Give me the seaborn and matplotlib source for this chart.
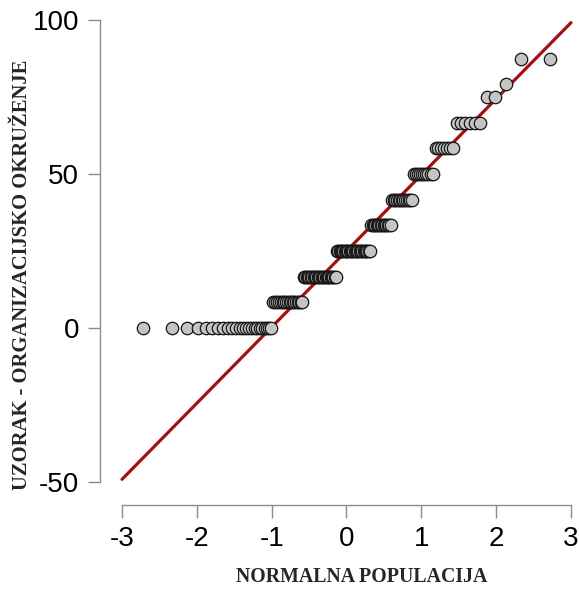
import numpy as np
import pandas as pd
import seaborn as sns
import matplotlib
matplotlib.use("Agg")
import matplotlib.pyplot as plt
from statistics import NormalDist

# ---- data ----
score_levels = [0, 8.333, 16.667, 25, 33.333, 41.667, 50, 58.333, 66.667, 75, 79.167, 87.5]
level_counts = [24, 18, 25, 27, 15, 13, 10, 7, 6, 2, 1, 2]
x_ticks = [-3, -2, -1, 0, 1, 2, 3]
y_ticks = [-50, 0, 50, 100]
x_label = "NORMALNA POPULACIJA"
y_label = "UZORAK - ORGANIZACIJSKO OKRUŽENJE"

# ---- Q-Q computation (as R's qqnorm / qqline) ----
sample = np.repeat(score_levels, level_counts)
n = len(sample)
probs = (np.arange(1, n + 1) - 0.5) / n
nd = NormalDist()
theo = np.array([nd.inv_cdf(p) for p in probs])
df = pd.DataFrame({"theo": theo, "sample": sample})

yq = np.quantile(sample, [0.25, 0.75])
xq = np.array([nd.inv_cdf(0.25), nd.inv_cdf(0.75)])
slope = (yq[1] - yq[0]) / (xq[1] - xq[0])
intercept = yq[0] - slope * xq[0]
line_df = pd.DataFrame({"x": [x_ticks[0], x_ticks[-1]]})
line_df["y"] = intercept + slope * line_df["x"]

# ---- figure ----
sns.set_style("white")
plt.rcParams["font.family"] = ["Liberation Sans", "DejaVu Sans"]
W, H = 579, 589
fig = plt.figure(figsize=(W / 100, H / 100), dpi=100)
ax = fig.add_axes([100 / W, (H - 505) / H, 479 / W, 505 / H])

sns.lineplot(data=line_df, x="x", y="y", ax=ax, color="#a50f0f", linewidth=2.3, zorder=1)
sns.scatterplot(data=df, x="theo", y="sample", ax=ax, s=80, color="#c4c4c4",
                edgecolor="#151515", linewidth=0.9, zorder=2, clip_on=False)

ax.set_xlim(-3 - 22 / 74.83, -3 + (579 - 122) / 74.83)
ax.set_ylim(-50 - 23 / 3.08, 100 + 20 / 3.08)
ax.set_xticks(x_ticks)
ax.set_yticks(y_ticks)
ax.set_xticklabels([str(t) for t in x_ticks])
ax.set_yticklabels([str(t) for t in y_ticks])

for s in ["top", "right"]:
    ax.spines[s].set_visible(False)
for s in ["left", "bottom"]:
    ax.spines[s].set_color("#8c8c8c")
    ax.spines[s].set_linewidth(1.0)
ax.spines["left"].set_bounds(-50, 100)
ax.spines["bottom"].set_bounds(-3, 3)
ax.tick_params(axis="both", which="major", bottom=True, left=True,
               direction="out", length=9, width=1.0, color="#8c8c8c",
               labelsize=20, labelcolor="black")
ax.tick_params(axis="y", pad=6)
ax.tick_params(axis="x", pad=6)
ax.set_xlabel("")
ax.set_ylabel("")
ax.grid(False)

fig.text(362 / W, 1 - 577 / H, x_label, ha="center", va="center",
         family=["Liberation Serif", "DejaVu Serif"], fontweight="bold", fontsize=14.3)
fig.text(22 / W, 1 - 275 / H, y_label, ha="center", va="center", rotation=90,
         family=["Liberation Serif", "DejaVu Serif"], fontweight="bold", fontsize=14.9)

fig.savefig("out.png", dpi=100)
